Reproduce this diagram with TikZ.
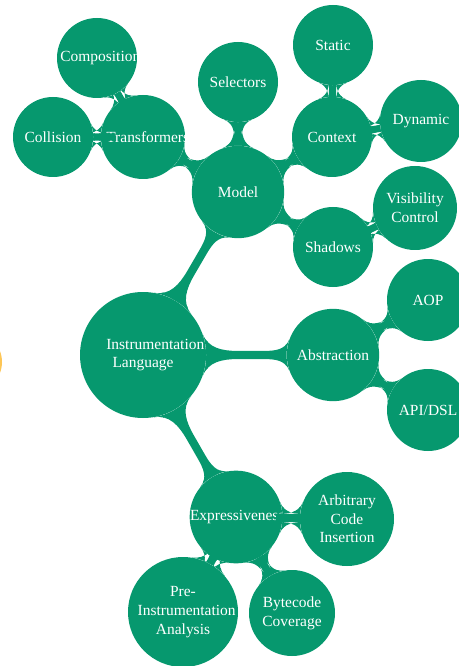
\documentclass[tikz,border=0pt]{standalone}
\usepackage{fontspec}
\setmainfont{Liberation Serif}
\usetikzlibrary{mindmap}
\definecolor{mapgreen}{RGB}{6,152,110}
\definecolor{glow}{RGB}{253,198,86}

\begin{document}
\begin{tikzpicture}[x=0.75pt,y=0.75pt]

	\tikzstyle{topic}=[
		circle,
		fill=mapgreen,
		text=white,
		align=center,
		inner sep=0pt,
		font=\fontsize{11.6}{14}\selectfont,
		text width=55pt,
		minimum size=60pt
	]
	\tikzstyle{stem}=[
		circle connection bar switch color=from (mapgreen) to (mapgreen)
	]

	\useasboundingbox (0,0) rectangle (459,-666);
	\clip (0,0) rectangle (459,-666);

	% edge of the next map
	\fill [glow] (-28,-362) circle (30);

	\node [topic, minimum size=94.5pt] (lang) at (143,-355) {Instrumentation Language};

	\node [topic, minimum size=64.5pt, text width=69pt] (model) at (238,-192) {Model};
	\node [topic, minimum size=64.5pt, text width=69pt] (abstr) at (333,-355) {Abstraction};
	\node [topic, minimum size=69pt, text width=69pt] (expr) at (236,-517) {Expressiveness};

	\node [topic, minimum size=63pt] (transf) at (143,-137) {Transformers};
	\node [topic] (collision) at (53,-137) {Collision};
	\node [topic] (composition) at (97,-58) {Composition};
	\node [topic] (selectors) at (238,-82) {Selectors};
	\node [topic] (context) at (332,-137) {Context};
	\node [topic] (static) at (333,-45) {Static};
	\node [topic, minimum size=61.5pt] (dynamic) at (421,-121) {Dynamic};
	\node [topic] (shadows) at (333,-247) {Shadows};
	\node [topic, minimum size=63pt] (visib) at (415,-208) {Visibility Control};

	\node [topic, minimum size=61.5pt] (aop) at (428,-300) {AOP};
	\node [topic, minimum size=61.5pt] (api) at (428,-410) {API/DSL};

	\node [topic, minimum size=70.5pt] (arbitrary) at (347,-519) {Arbitrary Code Insertion};
	\node [topic, minimum size=64.5pt] (bytecode) at (292,-613) {Bytecode Coverage};
	\node [topic, minimum size=82.5pt, text width=68pt] (preanal) at (183,-612) {Pre-\\Instrumentation\\Analysis};

	\path (lang) to[stem] (model);
	\path (lang) to[stem] (abstr);
	\path (lang) to[stem] (expr);

	\path (model) to[stem] (transf);
	\path (model) to[stem] (selectors);
	\path (model) to[stem] (context);
	\path (model) to[stem] (shadows);
	\path (transf) to[stem] (collision);
	\path (transf) to[stem] (composition);
	\path (context) to[stem] (static);
	\path (context) to[stem] (dynamic);
	\path (shadows) to[stem] (visib);

	\path (abstr) to[stem] (aop);
	\path (abstr) to[stem] (api);

	\path (expr) to[stem] (arbitrary);
	\path (expr) to[stem] (bytecode);
	\path (expr) to[stem] (preanal);

\end{tikzpicture}
\end{document}
